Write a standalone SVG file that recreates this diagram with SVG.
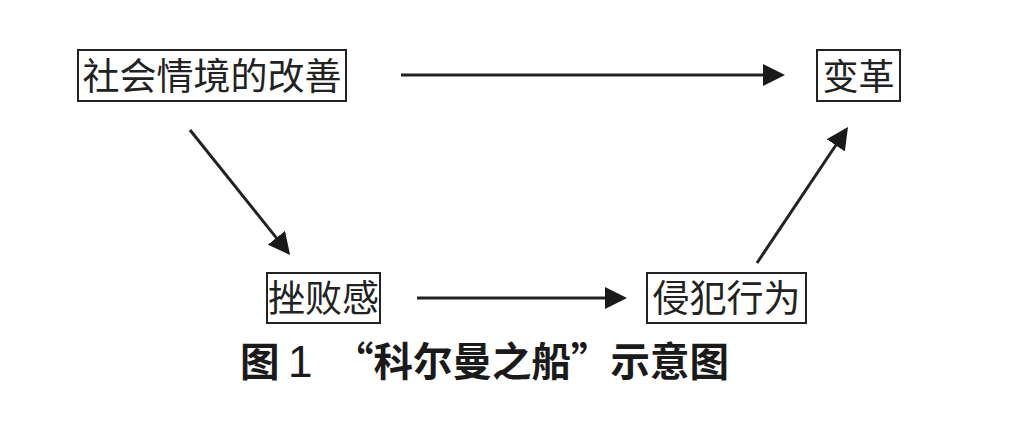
<svg xmlns="http://www.w3.org/2000/svg" width="1022" height="421" viewBox="0 0 1022 421">
<style>
.box{fill:#fff;stroke:#222;stroke-width:2}
.lbl{font-family:"Noto Sans CJK SC","Noto Sans",sans-serif;font-size:37px;fill:#222;text-anchor:middle}
.cap{font-family:"Noto Sans CJK SC","Noto Sans",sans-serif;font-size:39.5px;font-weight:700;fill:#1a1a1a}
.ln{stroke:#222;stroke-width:3;fill:none;marker-end:url(#ah)}
</style>
<defs>
<marker id="ah" markerUnits="userSpaceOnUse" markerWidth="22" markerHeight="22" refX="1" refY="11" orient="auto">
<path d="M0,0 L22,11 L0,22 z" fill="#1a1a1a"/>
</marker>
</defs>
<rect width="1022" height="421" fill="#fff"/>
<g id="connectors">
<line class="ln" x1="401" y1="75" x2="764" y2="75"/>
<line class="ln" x1="190" y1="130" x2="277" y2="238.6"/>
<line class="ln" x1="417" y1="298" x2="606" y2="298"/>
<line class="ln" x1="757" y1="263" x2="836.3" y2="144.5"/>
</g>
<g id="n1">
<rect class="box" x="78" y="50" width="268" height="51"/>
<text class="lbl" x="212" y="90">社会情境的改善</text>
</g>
<g id="n2">
<rect class="box" x="817" y="50" width="83" height="51"/>
<text class="lbl" x="858.5" y="90" style="font-size:36px">变革</text>
</g>
<g id="n3">
<rect class="box" x="267" y="273" width="113" height="50"/>
<text class="lbl" x="323.5" y="312">挫败感</text>
</g>
<g id="n4">
<rect class="box" x="647" y="273" width="159" height="50"/>
<text class="lbl" x="726.5" y="312">侵犯行为</text>
</g>
<g id="caption">
<text class="cap" x="240" y="376">图</text>
<text x="288" y="377" style="font-family:'Liberation Sans',Arial,sans-serif;font-size:44px;fill:#1a1a1a">1</text>
<text class="cap" x="334" y="376">“科尔曼之船”示意图</text>
</g>
</svg>
